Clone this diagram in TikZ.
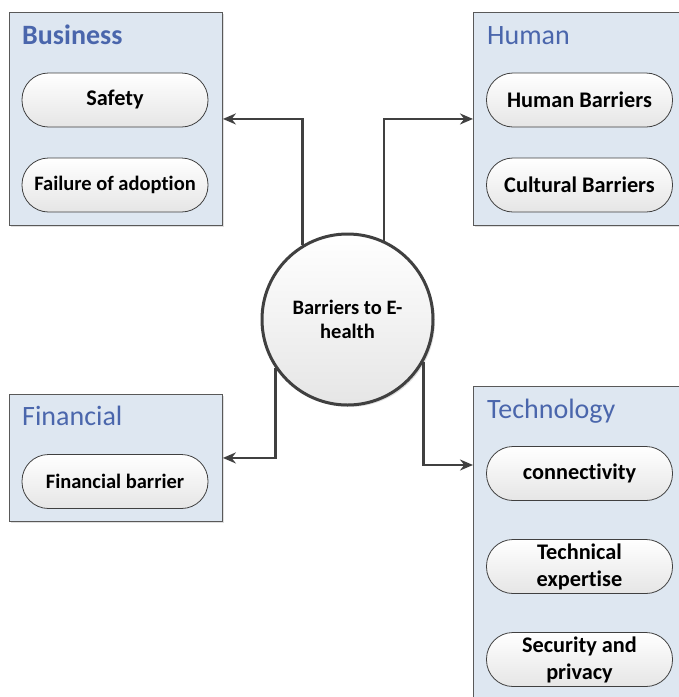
\documentclass[tikz,border=0pt]{standalone}
\usepackage{fontspec}
\setmainfont[Ligatures=NoCommon]{Carlito}
\usetikzlibrary{arrows.meta,shadows}
\definecolor{boxfill}{HTML}{DEE7F1}
\definecolor{boxline}{HTML}{595959}
\definecolor{ttl}{HTML}{4A66AC}
\definecolor{dk}{HTML}{404040}
\tikzset{
  grp/.style={draw=boxline,line width=0.9pt,fill=boxfill,anchor=north west,inner sep=0pt,
    drop shadow={shadow xshift=2pt,shadow yshift=-2pt,opacity=0.25}},
  ttlb/.style={anchor=base west,text=ttl,font=\fontsize{28}{30}\selectfont\bfseries,inner sep=0pt},
  ttlr/.style={anchor=base west,text=ttl,font=\fontsize{28}{30}\selectfont,inner sep=0pt},
  pill/.style={draw=dk,line width=0.8pt,rounded corners=26.5pt,minimum width=186pt,minimum height=54pt,
    top color=white,bottom color=black!10,inner sep=0pt,align=center,
    font=\fontsize{22.3}{27}\selectfont\bfseries},
  smalltext/.style={font=\fontsize{20.5}{25}\selectfont\bfseries},
  hubnode/.style={circle,draw=dk,line width=3pt,minimum size=171pt,inner sep=0pt,align=center,
    top color=white,bottom color=black!10,font=\fontsize{20.5}{24}\selectfont\bfseries,
    drop shadow={shadow xshift=2pt,shadow yshift=-2pt,opacity=0.25}},
  conn/.style={draw=dk,line width=2.4pt,-{Stealth[length=13pt,width=11pt]}}
}
\begin{document}
\begin{tikzpicture}[x=1pt,y=-1pt]
\useasboundingbox (0,0) rectangle (679,697);
\clip (0,0) rectangle (679,697);
% groups
\node[grp,minimum width=213pt,minimum height=213pt] (biz) at (9,12) {};
\node[grp,minimum width=220pt,minimum height=213pt] (hum) at (473,12) {};
\node[grp,minimum width=213pt,minimum height=127pt] (fin) at (9,394) {};
\node[grp,minimum width=220pt,minimum height=330pt] (tech) at (473,386) {};
% titles
\node[ttlb] (tb) at (22,44) {Business};
\node[ttlr] (th) at (487,44) {Human};
\node[ttlr] (tf) at (22,425) {Financial};
\node[ttlr] (tt) at (487,418) {Technology};
% pills
\node[pill] (p1) at (115,100) {Safety};
\node[pill,smalltext] (p2) at (115,185) {Failure of adoption};
\node[pill] (p3) at (579.5,100) {Human Barriers};
\node[pill] (p4) at (579.5,185) {Cultural Barriers};
\node[pill,smalltext] (p5) at (115,481.5) {Financial barrier};
\node[pill] (p6) at (579.5,473.5) {connectivity};
\node[pill] (p7) at (579.5,566.5) {Technical\\expertise};
\node[pill] (p8) at (579.5,659.5) {Security and\\privacy};
% hub
\node[hubnode] (hub) at (347.5,319.5) {Barriers to E-\\health};
% connectors
\coordinate (techin) at (473,465);
\draw[conn] (hub.121) |- (biz.east);
\draw[conn] (hub.65) |- (hum.west);
\draw[conn] (hub.214) |- (fin.east);
\draw[conn] (hub.-29) |- (techin);
\end{tikzpicture}
\end{document}
